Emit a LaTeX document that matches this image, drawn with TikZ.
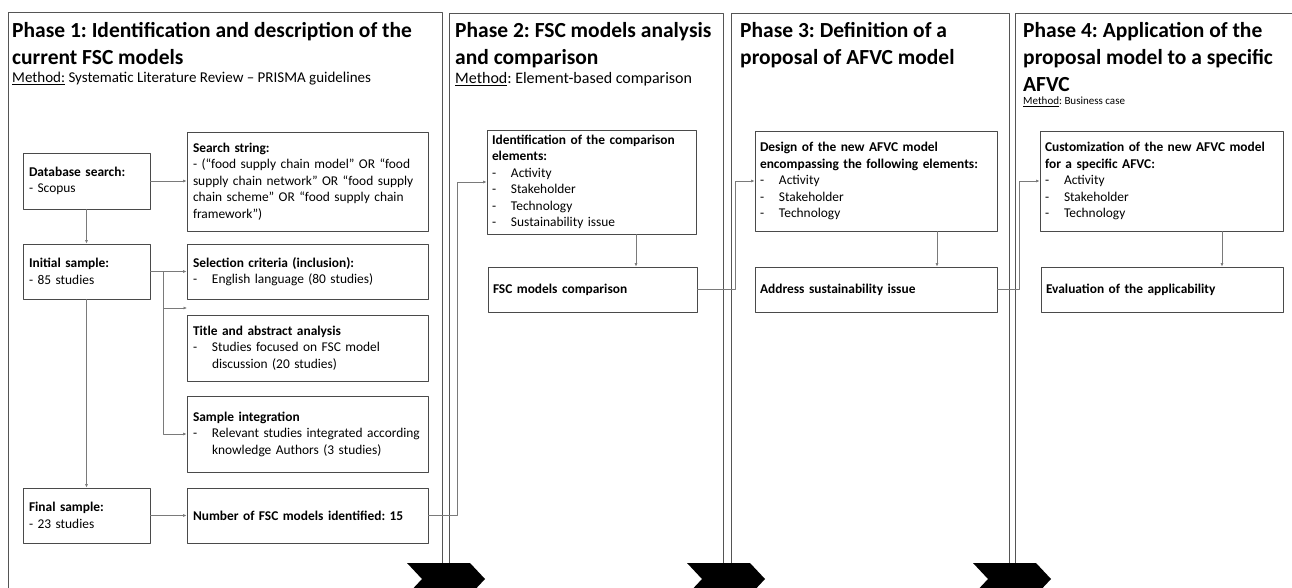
\documentclass[tikz,border=0pt]{standalone}
\usepackage{fontspec}
\setmainfont{Carlito}
\usetikzlibrary{arrows.meta}
\definecolor{PanelGray}{HTML}{555555}
\definecolor{BoxGray}{HTML}{4A4A4A}
\definecolor{LinkGray}{HTML}{7A7A7A}
\frenchspacing

% dash bullet with hanging indent
\newcommand{\dashitem}[1]{\par\noindent\makebox[19pt][l]{-}\parbox[t]{\dimexpr\linewidth-19pt\relax}{\raggedright #1}}

\begin{document}
\begin{tikzpicture}[x=1pt,y=-1pt,line cap=round,line join=round,
  panel/.style={draw=PanelGray,line width=0.9pt},
  phase/.style={font=\bfseries\fontsize{21.5}{27}\selectfont,align=left,inner sep=0pt,anchor=north west},
  method/.style={font=\fontsize{15}{17}\selectfont,inner sep=0pt,anchor=base west},
  box/.style={draw=BoxGray,line width=0.9pt,align=left,inner sep=6pt,
    font=\fontsize{13.4}{16.5}\selectfont},
  sbox/.style={box,inner sep=5pt},
  link/.style={draw=LinkGray,line width=0.6pt,-{Latex[length=3.5pt,width=3pt]}}]
  \useasboundingbox (0,0) rectangle (1292,588);

  % phase columns
  \draw[panel] (8,12) rectangle (442,600);
  \draw[panel] (449,13) rectangle (723,600);
  \draw[panel] (731,13) rectangle (1009,600);
  \draw[panel] (1015,13) rectangle (1320,600);

  % headings
  \node[phase] (t1) at (12,22) {Phase 1: Identification and description of the\\current FSC models};
  \node[method] (m1) at (12,83) {\underline{Method:} Systematic Literature Review – PRISMA guidelines};
  \node[phase] (t2) at (455,22) {Phase 2: FSC models analysis\\and comparison};
  \node[method,font=\fontsize{16}{18}\selectfont] (m2) at (455,84) {\underline{Method}: Element-based comparison};
  \node[phase] (t3) at (740,22) {Phase 3: Definition of a\\proposal of AFVC model};
  \node[phase] (t4) at (1023,22) {Phase 4: Application of the\\proposal model to a specific\\AFVC};
  \node[method,font=\fontsize{11}{13}\selectfont] (m4) at (1023,105) {\underline{Method}: Business case};

  % phase 1: literature review
  \node[box,text width=115pt,minimum width=127pt,minimum height=56pt] (db) at (86.5,181)
    {\textbf{Database search:}\\- Scopus};
  \node[box,text width=229pt,minimum width=241pt,minimum height=99pt] (search) at (307.5,181.5)
    {\textbf{Search string:}\\- (“food supply chain model” OR “food\\supply chain network” OR “food supply\\chain scheme” OR “food supply chain\\framework”)};
  \node[box,text width=115pt,minimum width=127pt,minimum height=55pt] (init) at (86.5,271.5)
    {\textbf{Initial sample:}\\- 85 studies};
  \node[box,text width=229pt,minimum width=241pt,minimum height=55pt] (sel) at (307.5,271.5)
    {\textbf{Selection criteria (inclusion):}\dashitem{English language (80 studies)}};
  \node[box,text width=229pt,minimum width=241pt,minimum height=66pt] (title) at (307.5,348)
    {\textbf{Title and abstract analysis}\dashitem{Studies focused on FSC model\\discussion (20 studies)}};
  \node[box,text width=229pt,minimum width=241pt,minimum height=76pt] (integ) at (307.5,434)
    {\textbf{Sample integration}\dashitem{Relevant studies integrated according\\knowledge Authors (3 studies)}};
  \node[box,text width=115pt,minimum width=127pt,minimum height=55pt] (final) at (86.5,515.5)
    {\textbf{Final sample:}\\- 23 studies};
  \node[box,text width=229pt,minimum width=241pt,minimum height=55pt] (nfsc) at (307.5,515.5)
    {\textbf{Number of FSC models identified: 15}};

  % phase 2: comparison
  \node[sbox,text width=199pt,minimum width=209pt,minimum height=100pt] (ident) at (591.5,182)
    {\textbf{Identification of the comparison\\elements:}\dashitem{Activity}\dashitem{Stakeholder}\dashitem{Technology}\dashitem{Sustainability issue}};
  \node[sbox,text width=199pt,minimum width=209pt,minimum height=45pt] (cmp) at (592.5,289.5)
    {\textbf{FSC models comparison}};

  % phase 3: proposal
  \node[sbox,text width=232pt,minimum width=242pt,minimum height=100pt] (design) at (876,181)
    {\textbf{Design of the new AFVC model\\encompassing the following elements:}\dashitem{Activity}\dashitem{Stakeholder}\dashitem{Technology}};
  \node[sbox,text width=232pt,minimum width=242pt,minimum height=45pt] (address) at (876,289.5)
    {\textbf{Address sustainability issue}};

  % phase 4: application
  \node[sbox,text width=233pt,minimum width=243pt,minimum height=100pt] (custom) at (1161.5,181)
    {\textbf{Customization of the new AFVC model\\for a specific AFVC:}\dashitem{Activity}\dashitem{Stakeholder}\dashitem{Technology}};
  \node[sbox,text width=232pt,minimum width=242pt,minimum height=45pt] (evalu) at (1162,289.5)
    {\textbf{Evaluation of the applicability}};

  % connectors
  \coordinate (fork) at (163,271.5);
  \coordinate (tagap) at (187,308);
  \coordinate (hop12) at (457,0);
  \coordinate (hop23) at (735,0);
  \coordinate (hop34) at (1019,0);
  \coordinate (drop2) at (636,0);
  \coordinate (drop3) at (937,0);
  \coordinate (drop4) at (1222,0);

  \draw[link] (db.south) -- (init.north);
  \draw[link] (init.south) -- (final.north);
  \draw[link] (db.east) -- (db.east -| search.west);
  \draw[link] (init.east) -- (sel.west);
  \draw[link] (fork) |- (tagap);
  \draw[link] (fork) |- (integ.west);
  \draw[link] (final.east) -- (nfsc.west);
  \draw[link] (nfsc.east) -| (hop12 |- ident.west) -- (ident.west);
  \draw[link] (ident.south -| drop2) -- (cmp.north -| drop2);
  \draw[link] (cmp.east) -| (hop23 |- design.west) -- (design.west);
  \draw[link] (design.south -| drop3) -- (address.north -| drop3);
  \draw[link] (address.east) -| (hop34 |- custom.west) -- (custom.west);
  \draw[link] (custom.south -| drop4) -- (evalu.north -| drop4);

  % chevrons between the phases
  \foreach \cx in {407,687,973}
    \fill[black] (\cx,563) -- ++(63,0) -- ++(15,16) -- ++(-15,16) -- ++(-63,0) -- ++(15,-16) -- cycle;
\end{tikzpicture}
\end{document}
